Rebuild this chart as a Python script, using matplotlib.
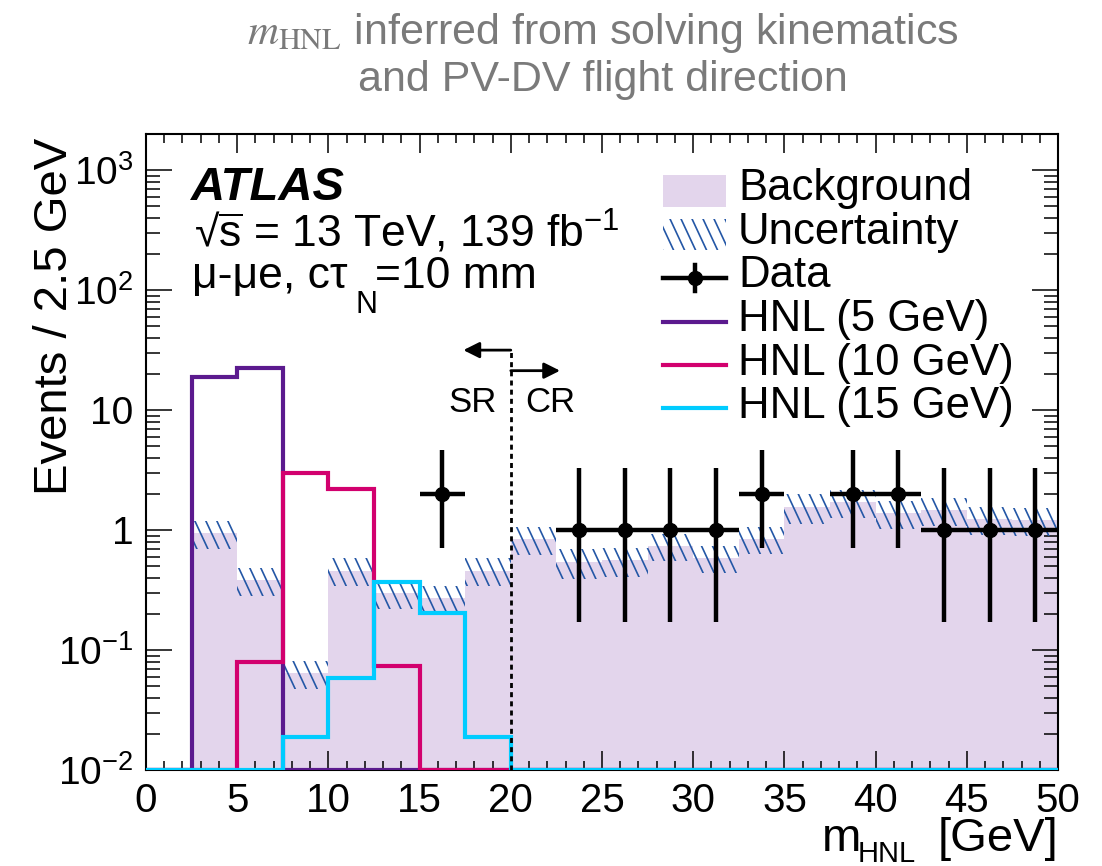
import numpy as np
import matplotlib
matplotlib.use("Agg")
import matplotlib.pyplot as plt
from matplotlib.collections import LineCollection
from matplotlib.patches import Rectangle
from matplotlib.path import Path
from matplotlib.transforms import IdentityTransform
from matplotlib.ticker import MultipleLocator, LogLocator, FuncFormatter, NullFormatter

plt.rcParams['font.family'] = ['Liberation Sans', 'DejaVu Sans']
plt.rcParams['mathtext.fontset'] = 'custom'
plt.rcParams['mathtext.rm'] = 'Liberation Sans'
plt.rcParams['mathtext.it'] = 'Liberation Sans:italic'
plt.rcParams['mathtext.bf'] = 'Liberation Sans:bold'

# 2.5 GeV bins from 0 to 50 GeV
edges = np.arange(0, 50.1, 2.5)

bkg = np.array([0, 0.94, 0.38, 0.064, 0.46, 0.30, 0.27, 0.46, 0.84, 0.54,
                0.56, 0.74, 0.59, 0.85, 1.56, 1.72, 1.38, 1.47, 1.23, 1.21])
bkg_err = np.array([0, 0.25, 0.10, 0.017, 0.12, 0.08, 0.07, 0.12, 0.22, 0.15,
                    0.15, 0.19, 0.15, 0.22, 0.43, 0.45, 0.36, 0.38, 0.32, 0.32])

data = np.array([0, 0, 0, 0, 0, 0, 2, 0, 0, 1, 1, 1, 1, 2, 0, 2, 2, 1, 1, 1])
data_err_lo = np.array([0, 0, 0, 0, 0, 0, 1.29, 0, 0, 0.83, 0.83, 0.83, 0.83, 1.29,
                        0, 1.29, 1.29, 0.83, 0.83, 0.83])
data_err_hi = np.array([0, 0, 0, 0, 0, 0, 2.64, 0, 0, 2.30, 2.30, 2.30, 2.30, 2.64,
                        0, 2.64, 2.64, 2.30, 2.30, 2.30])

hnl5 = np.array([0, 18.7, 22.3, 0, 0, 0, 0, 0, 0, 0, 0, 0, 0, 0, 0, 0, 0, 0, 0, 0])
hnl10 = np.array([0, 0, 0.080, 3.0, 2.2, 0.073, 0, 0, 0, 0, 0, 0, 0, 0, 0, 0, 0, 0, 0, 0])
hnl15 = np.array([0, 0, 0, 0.019, 0.058, 0.37, 0.205, 0.019, 0, 0, 0, 0, 0, 0, 0, 0, 0, 0, 0, 0])

labels = ['Background', 'Uncertainty', 'Data', 'HNL (5 GeV)', 'HNL (10 GeV)', 'HNL (15 GeV)']
hnl_colors = ['#5b1a8e', '#d2006e', '#00ccff']
c_bkg = '#e3d5ec'
c_hatch = '#2457a6'

W, H = 1102, 866
YMIN, YMAX = 0.01, 2000

fig = plt.figure(figsize=(W / 100, H / 100), dpi=100)
ax = fig.add_axes([146 / W, 96 / H, 912 / W, 636 / H])
ax.set_yscale('log')
ax.set_xlim(0, 50)
ax.set_ylim(YMIN, YMAX)


def afr(px, py):
    # pixel position -> axes fraction
    return (px - 146) / 912, (770 - py) / 636


def ffr(px, py):
    return px / W, 1 - py / H


def hatch(path, trans, spacing=11, angle=65, lw=1.2, zorder=2):
    bb = ax.bbox
    k = 1 / np.tan(np.radians(angle))
    xs = np.arange(bb.x0 - bb.height * k - spacing, bb.x1 + spacing, spacing)
    segs = [[(x, bb.y1), (x + bb.height * k, bb.y0)] for x in xs]
    lc = LineCollection(segs, colors=c_hatch, linewidths=lw,
                        transform=IdentityTransform(), zorder=zorder)
    lc.set_clip_path(path, trans)
    ax.add_collection(lc, autolim=False)


# background
ax.stairs(np.where(bkg > 0, bkg, 1e-4), edges, baseline=1e-4, fill=True,
          color=c_bkg, lw=0, zorder=1)

# uncertainty band (hatched, no fill)
sel = np.where(bkg > 0)[0]
up = bkg + bkg_err
dn = bkg - bkg_err
verts = []
for i in sel:
    verts += [(edges[i], up[i]), (edges[i + 1], up[i])]
for i in sel[::-1]:
    verts += [(edges[i + 1], dn[i]), (edges[i], dn[i])]
verts.append(verts[0])
band = Path(verts, closed=True)
hatch(band, ax.transData)

# signal histograms
for vals, c in zip([hnl5, hnl10, hnl15], hnl_colors):
    ax.stairs(np.where(vals > 0, vals, YMIN), edges, baseline=None,
              color=c, lw=3, zorder=3)

# data
centers = 0.5 * (edges[:-1] + edges[1:])
m = data > 0
ax.errorbar(centers[m], data[m], xerr=1.25, yerr=[data_err_lo[m], data_err_hi[m]],
            fmt='o', color='k', ms=10, elinewidth=3.2, capsize=0, zorder=5)

# SR / CR boundary
ax.plot([20, 20], [YMIN, 31.6], color='k', lw=2, ls=(0, (1.8, 1.5)), zorder=4)
ax.annotate('', xy=(17.4, 31.6), xytext=(20, 31.6),
            arrowprops=dict(arrowstyle='-|>', color='k', lw=2, mutation_scale=24,
                            shrinkA=0, shrinkB=0), zorder=4)
ax.annotate('', xy=(22.7, 21.3), xytext=(20, 21.3),
            arrowprops=dict(arrowstyle='-|>', color='k', lw=2, mutation_scale=24,
                            shrinkA=0, shrinkB=0), zorder=4)
ax.text(*afr(473, 412), 'SR', transform=ax.transAxes, ha='center', va='baseline', fontsize=25)
ax.text(*afr(550, 412), 'CR', transform=ax.transAxes, ha='center', va='baseline', fontsize=25)

# axes and ticks
ax.xaxis.set_major_locator(MultipleLocator(5))
ax.xaxis.set_minor_locator(MultipleLocator(1))
ax.yaxis.set_major_locator(LogLocator(base=10, numticks=20))
ax.yaxis.set_minor_locator(LogLocator(base=10, subs=np.arange(2, 10), numticks=20))
ax.yaxis.set_minor_formatter(NullFormatter())
ylab = {1e3: '$10^{3}$', 1e2: '$10^{2}$', 10: '10', 1: '1', 0.1: '$10^{-1}$', 0.01: '$10^{-2}$'}
ax.yaxis.set_major_formatter(FuncFormatter(
    lambda v, p: min(ylab.items(), key=lambda kv: abs(np.log10(kv[0]) - np.log10(v)))[1]))
ax.tick_params(which='both', direction='in', top=True, right=True, width=1.1, labelsize=29)
ax.tick_params(axis='x', which='major', length=13.5, pad=9)
ax.tick_params(axis='x', which='minor', length=6.5)
ax.tick_params(axis='y', which='major', length=19, pad=9, labelsize=28)
ax.tick_params(axis='y', which='minor', length=10)
for s in ax.spines.values():
    s.set_linewidth(1.5)

fig.text(*ffr(67, 138), 'Events / 2.5 GeV', rotation=90, rotation_mode='anchor',
         ha='right', va='baseline', fontsize=34)
fig.text(*ffr(1058, 851), '[GeV]', ha='right', va='baseline', fontsize=34)
fig.text(*ffr(822, 851), 'm', ha='left', va='baseline', fontsize=34)
fig.text(*ffr(858, 862), 'HNL', ha='left', va='baseline', fontsize=21)

# labels in the frame
ax.text(*afr(191, 200), 'ATLAS', transform=ax.transAxes, fontsize=34,
        fontweight='bold', fontstyle='italic', va='baseline')
ax.text(*afr(194, 247), r'√$\overline{\mathrm{s}}$ = 13 TeV, 139 fb$^{\mathrm{-1}}$',
        transform=ax.transAxes, fontsize=32, va='baseline')
ax.text(*afr(192, 288), 'μ-μe, cτ', transform=ax.transAxes, fontsize=32, va='baseline')
ax.text(*afr(355, 313), 'N', transform=ax.transAxes, fontsize=22, va='baseline')
ax.text(*afr(375, 288), '=10 mm', transform=ax.transAxes, fontsize=32, va='baseline')

# legend
baselines = [200, 244, 287, 331, 375, 418]
for lab, b in zip(labels, baselines):
    ax.text(*afr(738, b), lab, transform=ax.transAxes, fontsize=31.5, va='baseline')
x0, x1 = 663, 726
bx, by = afr(x0, 207)
ax.add_patch(Rectangle((bx, by), (x1 - x0) / 912, 32 / 636, transform=ax.transAxes,
                       facecolor=c_bkg, edgecolor='none', zorder=2))
hx, hy = afr(x0, 250)
hrect = Rectangle((hx, hy), (x1 - x0) / 912, 31 / 636, transform=ax.transAxes,
                  facecolor='none', edgecolor='none')
ax.add_patch(hrect)
hatch(hrect.get_path(), hrect.get_transform())
xa, _ = afr(x0, 0)
xb, _ = afr(x1, 0)
xm, _ = afr((x0 + x1) / 2, 0)
yd = afr(0, 278)[1]
ax.plot([xa, xb], [yd, yd], transform=ax.transAxes, color='k', lw=3.2, zorder=5)
ax.plot([xm, xm], [afr(0, 265)[1], afr(0, 291)[1]], transform=ax.transAxes,
        color='k', lw=3.2, zorder=5)
ax.plot([xm], [yd], 'o', transform=ax.transAxes, color='k', ms=10, zorder=5)
for c, yy in zip(hnl_colors, [322, 365, 408]):
    y = afr(0, yy)[1]
    ax.plot([xa, xb], [y, y], transform=ax.transAxes, color=c, lw=3, zorder=5)

# title
fig.text(*ffr(603, 44), r'$m_{\mathrm{HNL}}$ inferred from solving kinematics',
         ha='center', va='baseline', fontsize=31, color='#7a7a7a', math_fontfamily='stix')
fig.text(*ffr(603, 91), 'and PV-DV flight direction',
         ha='center', va='baseline', fontsize=31, color='#7a7a7a')

fig.savefig('out.png', dpi=100)
